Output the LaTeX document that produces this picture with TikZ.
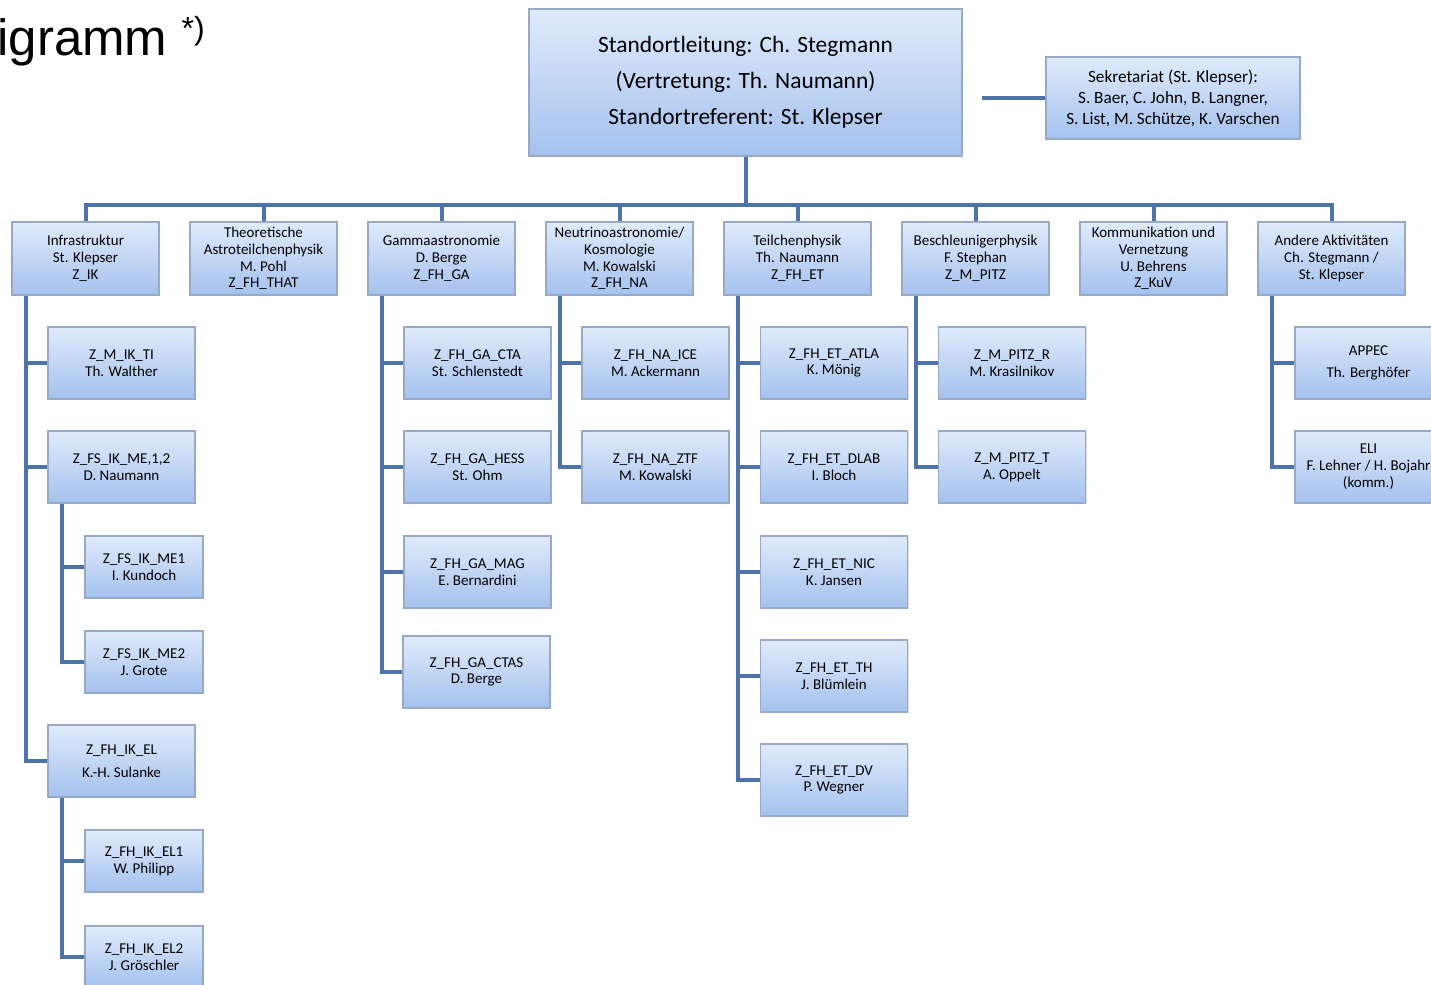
\documentclass[tikz,border=0pt]{standalone}
\usepackage{fontspec}
\setmainfont{Carlito}
\newfontfamily\titelfont{Liberation Sans}
\usetikzlibrary{positioning,shadows}
\definecolor{strich}{HTML}{4D73A8}
\definecolor{rand}{HTML}{97A9C4}
\definecolor{hell}{HTML}{E0EBFB}
\definecolor{dunkel}{HTML}{A4C1EE}
\tikzset{
  kasten/.style={draw=rand,line width=0.6pt,top color=hell,bottom color=dunkel,
    inner sep=1pt,align=center,font=\fontsize{7.5}{8.4}\selectfont,
    drop shadow={shadow xshift=0.7pt,shadow yshift=-0.7pt,opacity=0.25}},
  bereich/.style={kasten,minimum width=73.5pt,minimum height=36.5pt},
  gruppe/.style={kasten,minimum width=73.5pt,minimum height=36pt},
  untergruppe/.style={kasten,minimum width=59pt,minimum height=31pt},
  verbindung/.style={draw=strich,line width=2pt}
}

\begin{document}
\begin{tikzpicture}[x=0.5pt,y=-0.5pt]
\useasboundingbox (0,0) rectangle (1431,985);
\clip (0,0) rectangle (1431,985);
\fill[white] (0,0) rectangle (1431,985);

\node[anchor=base west,inner sep=0pt,font=\titelfont\fontsize{25.5}{25.5}\selectfont] (titel) at (-3,55)
  {igramm \raisebox{8pt}{\fontsize{16}{16}\selectfont *)}};

% Leitung und Sekretariat
\node[kasten,minimum width=216.5pt,minimum height=73.5pt,font=\fontsize{11.7}{18}\selectfont] (leitung) at (745.5,82.5)
  {Standortleitung: Ch. Stegmann\\(Vertretung: Th. Naumann)\\Standortreferent: St. Klepser};
\node[kasten,minimum width=127pt,minimum height=41pt,font=\fontsize{8.6}{10.5}\selectfont] (sekr) at (1173,98)
  {Sekretariat (St. Klepser):\\S. Baer, C. John, B. Langner,\\S. List, M. Schütze, K. Varschen};
\coordinate (sekrende) at (982,98);
\draw[verbindung] (sekrende) -- (sekr.west);

% Bereiche
\node[bereich] (infra) at (85.5,258.5) {Infrastruktur\\St. Klepser\\Z\_IK};
\node[bereich] (theorie) at (263.5,258.5) {Theoretische\\Astroteilchenphysik\\M. Pohl\\Z\_FH\_THAT};
\node[bereich] (gamma) at (441.5,258.5) {Gammaastronomie\\D. Berge\\Z\_FH\_GA};
\node[bereich] (neutrino) at (619.5,258.5) {Neutrinoastronomie/\\Kosmologie\\M. Kowalski\\Z\_FH\_NA};
\node[bereich] (teilchen) at (797.5,258.5) {Teilchenphysik\\Th. Naumann\\Z\_FH\_ET};
\node[bereich] (beschl) at (975.5,258.5) {Beschleunigerphysik\\F. Stephan\\Z\_M\_PITZ};
\node[bereich] (komm) at (1153.5,258.5) {Kommunikation und\\Vernetzung\\U. Behrens\\Z\_KuV};
\node[bereich] (andere) at (1331.5,258.5) {Andere Aktivitäten\\Ch. Stegmann /\\St. Klepser};

\coordinate (bus) at (745.5,205);
\draw[verbindung] (leitung.south) -- (bus);
\foreach \b in {infra,theorie,gamma,neutrino,teilchen,beschl,komm,andere}
  \draw[verbindung] (bus) -| (\b.north);

% Infrastruktur
\node[gruppe] (ti) at (121.5,363) {Z\_M\_IK\_TI\\Th. Walther};
\node[gruppe] (me) at (121.5,467) {Z\_FS\_IK\_ME,1,2\\D. Naumann};
\node[untergruppe] (meeins) at (144,567) {Z\_FS\_IK\_ME1\\I. Kundoch};
\node[untergruppe] (mezwei) at (144,662) {Z\_FS\_IK\_ME2\\J. Grote};
\node[gruppe] (el) at (121.5,761) {Z\_FH\_IK\_EL\\[3pt]K.-H. Sulanke};
\node[untergruppe] (eleins) at (144,861) {Z\_FH\_IK\_EL1\\W. Philipp};
\node[untergruppe] (elzwei) at (144,957) {Z\_FH\_IK\_EL2\\J. Gröschler};
\foreach \k in {ti,me,el}
  \draw[verbindung] ([xshift=7.5pt]infra.south west) |- (\k.west);
\foreach \k in {meeins,mezwei}
  \draw[verbindung] ([xshift=7.5pt]me.south west) |- (\k.west);
\foreach \k in {eleins,elzwei}
  \draw[verbindung] ([xshift=7.5pt]el.south west) |- (\k.west);

% Gammaastronomie
\node[gruppe] (cta) at (477.5,363) {Z\_FH\_GA\_CTA\\St. Schlenstedt};
\node[gruppe] (hess) at (477.5,467) {Z\_FH\_GA\_HESS\\St. Ohm};
\node[gruppe] (mag) at (477.5,572) {Z\_FH\_GA\_MAG\\E. Bernardini};
\node[gruppe] (ctas) at (476.5,672) {Z\_FH\_GA\_CTAS\\D. Berge};
\foreach \k in {cta,hess,mag,ctas}
  \draw[verbindung] ([xshift=7.5pt]gamma.south west) |- (\k.west);

% Neutrinoastronomie
\node[gruppe] (ice) at (655.5,363) {Z\_FH\_NA\_ICE\\M. Ackermann};
\node[gruppe] (ztf) at (655.5,467) {Z\_FH\_NA\_ZTF\\M. Kowalski};
\foreach \k in {ice,ztf}
  \draw[verbindung] ([xshift=7.5pt]neutrino.south west) |- (\k.west);

% Teilchenphysik
\node[gruppe] (atla) at (834,363) {Z\_FH\_ET\_ATLA\\K. Mönig};
\node[gruppe] (dlab) at (834,467) {Z\_FH\_ET\_DLAB\\I. Bloch};
\node[gruppe] (nic) at (834,572) {Z\_FH\_ET\_NIC\\K. Jansen};
\node[gruppe] (th) at (834,676) {Z\_FH\_ET\_TH\\J. Blümlein};
\node[gruppe] (dv) at (834,780) {Z\_FH\_ET\_DV\\P. Wegner};
\foreach \k in {atla,dlab,nic,th,dv}
  \draw[verbindung] ([xshift=7.5pt]teilchen.south west) |- (\k.west);

% Beschleunigerphysik
\node[gruppe] (pitzr) at (1012,363) {Z\_M\_PITZ\_R\\M. Krasilnikov};
\node[gruppe] (pitzt) at (1012,467) {Z\_M\_PITZ\_T\\A. Oppelt};
\foreach \k in {pitzr,pitzt}
  \draw[verbindung] ([xshift=7.5pt]beschl.south west) |- (\k.west);

% Andere Aktivitaeten
\node[gruppe] (appec) at (1368.5,363) {APPEC\\[3pt]Th. Berghöfer};
\node[gruppe] (eli) at (1368.5,467) {ELI\\F. Lehner / H. Bojahr\\(komm.)};
\foreach \k in {appec,eli}
  \draw[verbindung] ([xshift=7.5pt]andere.south west) |- (\k.west);
\end{tikzpicture}
\end{document}
